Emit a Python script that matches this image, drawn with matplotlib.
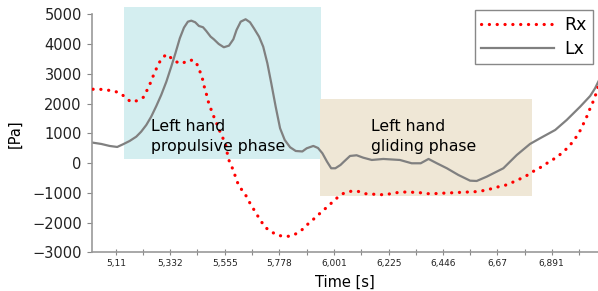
import matplotlib
matplotlib.use("Agg")
import matplotlib.pyplot as plt
from matplotlib.patches import Rectangle

# Rx (red, dotted) -- time [s], pressure [Pa]
rx_t = [5.016, 5.043, 5.070, 5.101, 5.128, 5.150, 5.171, 5.197, 5.222, 5.236,
        5.249, 5.258, 5.270, 5.281, 5.295, 5.316, 5.339, 5.358, 5.381, 5.403,
        5.428, 5.445, 5.455, 5.465, 5.471, 5.479, 5.485, 5.495, 5.504, 5.516,
        5.538, 5.557, 5.570, 5.582, 5.593, 5.602, 5.612, 5.629, 5.646, 5.658,
        5.673, 5.687, 5.703, 5.718, 5.741, 5.767, 5.793, 5.822, 5.847, 5.871,
        5.892, 5.914, 5.935, 5.955, 5.978, 5.998, 6.020, 6.043, 6.071, 6.099,
        6.126, 6.153, 6.183, 6.213, 6.242, 6.269, 6.297, 6.325, 6.353, 6.381,
        6.411, 6.438, 6.467, 6.495, 6.524, 6.553, 6.581, 6.610, 6.637, 6.664,
        6.692, 6.718, 6.745, 6.771, 6.796, 6.821, 6.847, 6.872, 6.896, 6.919,
        6.941, 6.962, 6.980, 6.997, 7.011, 7.023, 7.035, 7.046, 7.057, 7.068,
        7.076, 7.085]
rx_v = [2480, 2480, 2456, 2422, 2345, 2197, 2052, 2096, 2210, 2432,
        2657, 2849, 3071, 3286, 3488, 3656, 3508, 3397, 3340, 3454,
        3454, 3272, 3037, 2792, 2567, 2345, 2120, 1894, 1673, 1447,
        1000, 664, 127, -89, -324, -546, -761, -949, -1151, -1352,
        -1554, -1745, -1947, -2149, -2283, -2418, -2461, -2461, -2374, -2240,
        -2072, -1914, -1762, -1601, -1453, -1285, -1130, -1006, -949, -949,
        -1030, -1040, -1063, -1063, -1016, -983, -973, -983, -996, -1030,
        -1030, -1016, -1006, -996, -983, -973, -962, -929, -882, -815,
        -771, -704, -593, -502, -391, -257, -142, -8, 113, 237,
        395, 550, 742, 933, 1135, 1347, 1558, 1784, 1985, 2210,
        2412, 2650]

# Lx (grey, solid)
lx_t = [5.016, 5.050, 5.084, 5.115, 5.139, 5.166, 5.193, 5.213, 5.234, 5.254,
        5.275, 5.295, 5.316, 5.336, 5.353, 5.371, 5.388, 5.404, 5.418, 5.434,
        5.449, 5.466, 5.479, 5.497, 5.510, 5.530, 5.551, 5.572, 5.590, 5.603,
        5.620, 5.640, 5.658, 5.674, 5.695, 5.712, 5.729, 5.745, 5.763, 5.781,
        5.800, 5.822, 5.845, 5.872, 5.890, 5.917, 5.936, 5.954, 5.973, 5.990,
        6.007, 6.028, 6.042, 6.067, 6.094, 6.121, 6.156, 6.203, 6.271, 6.319,
        6.356, 6.388, 6.422, 6.463, 6.510, 6.558, 6.585, 6.626, 6.694, 6.749,
        6.803, 6.844, 6.906, 6.953, 7.008, 7.049, 7.069, 7.085]
lx_v = [684, 641, 574, 540, 631, 742, 886, 1054, 1279, 1558,
        1918, 2288, 2735, 3239, 3689, 4193, 4550, 4751, 4785, 4731,
        4607, 4563, 4439, 4247, 4160, 4002, 3891, 3945, 4160, 4472,
        4751, 4832, 4731, 4529, 4247, 3911, 3353, 2681, 1894, 1168,
        775, 530, 405, 389, 496, 574, 506, 328, 46, -176,
        -176, -65, 46, 238, 261, 180, 103, 137, 103, -8,
        -8, 137, -8, -176, -401, -593, -603, -458, -176, 271,
        641, 832, 1111, 1447, 1894, 2254, 2513, 2780]

tick_labels = ["5,11", "5,332", "5,555", "5,778", "6,001", "6,225",
               "6,446", "6,67", "6,891"]
tick_pos = [float(s.replace(",", ".")) for s in tick_labels]

# phase spans: (t0, t1, v0, v1)
propulsive = (5.143, 5.947, 137, 5255)
gliding = (5.943, 6.813, -1107, 2153)

fig = plt.figure(figsize=(5.98, 2.91), dpi=100)
ax = fig.add_axes([0.1533, 0.133, 0.8467, 0.818])

for (t0, t1, v0, v1), col in [(propulsive, "#d4eef0"), (gliding, "#efe7d6")]:
    ax.add_patch(Rectangle((t0, v0), t1 - t0, v1 - v0, facecolor=col,
                           edgecolor="none", zorder=0, clip_on=False))

ax.plot(rx_t, rx_v, color="red", lw=2.3, linestyle=(0, (0.05, 2.4)),
        dash_capstyle="round", label="Rx", zorder=3)
ax.plot(lx_t, lx_v, color="#808080", lw=1.6, label="Lx", zorder=2)

ax.text(5.253, 900, "Left hand\npropulsive phase", fontsize=11.3,
        va="center", ha="left", linespacing=1.4, zorder=4)
ax.text(6.152, 880, "Left hand\ngliding phase", fontsize=11.3,
        va="center", ha="left", linespacing=1.4, zorder=4)

ax.set_xlim(5.0106, 7.081)
ax.set_ylim(-3000, 5000)
ax.set_yticks(range(-3000, 5001, 1000))
ax.tick_params(axis="y", labelsize=10.5, colors="#888888", labelcolor="#222222",
               length=3.6, width=0.8)
ax.set_xticks(tick_pos)
ax.set_xticklabels(tick_labels)
ax.set_xticks([p + 0.1113 for p in tick_pos], minor=True)
ax.tick_params(axis="x", which="both", direction="inout", length=4.5,
               width=0.8, colors="#888888", labelcolor="#222222",
               labelsize=6.5, pad=2.5)

for s in ("top", "right"):
    ax.spines[s].set_visible(False)
for s in ("left", "bottom"):
    ax.spines[s].set_color("#999999")
    ax.spines[s].set_linewidth(1.2)

ax.set_ylabel("[Pa]", fontsize=10.5, labelpad=7)
ax.set_xlabel("Time [s]", fontsize=10.5, labelpad=5)

leg = ax.legend(loc="upper right", bbox_to_anchor=(0.99, 1.018), fontsize=12.5,
                handlelength=4.2, handletextpad=0.6, labelspacing=0.35,
                borderpad=0.35, borderaxespad=0, fancybox=False, framealpha=1)
leg.get_frame().set_edgecolor("#888888")
leg.get_frame().set_linewidth(1.0)

fig.savefig("out.png", dpi=100)
